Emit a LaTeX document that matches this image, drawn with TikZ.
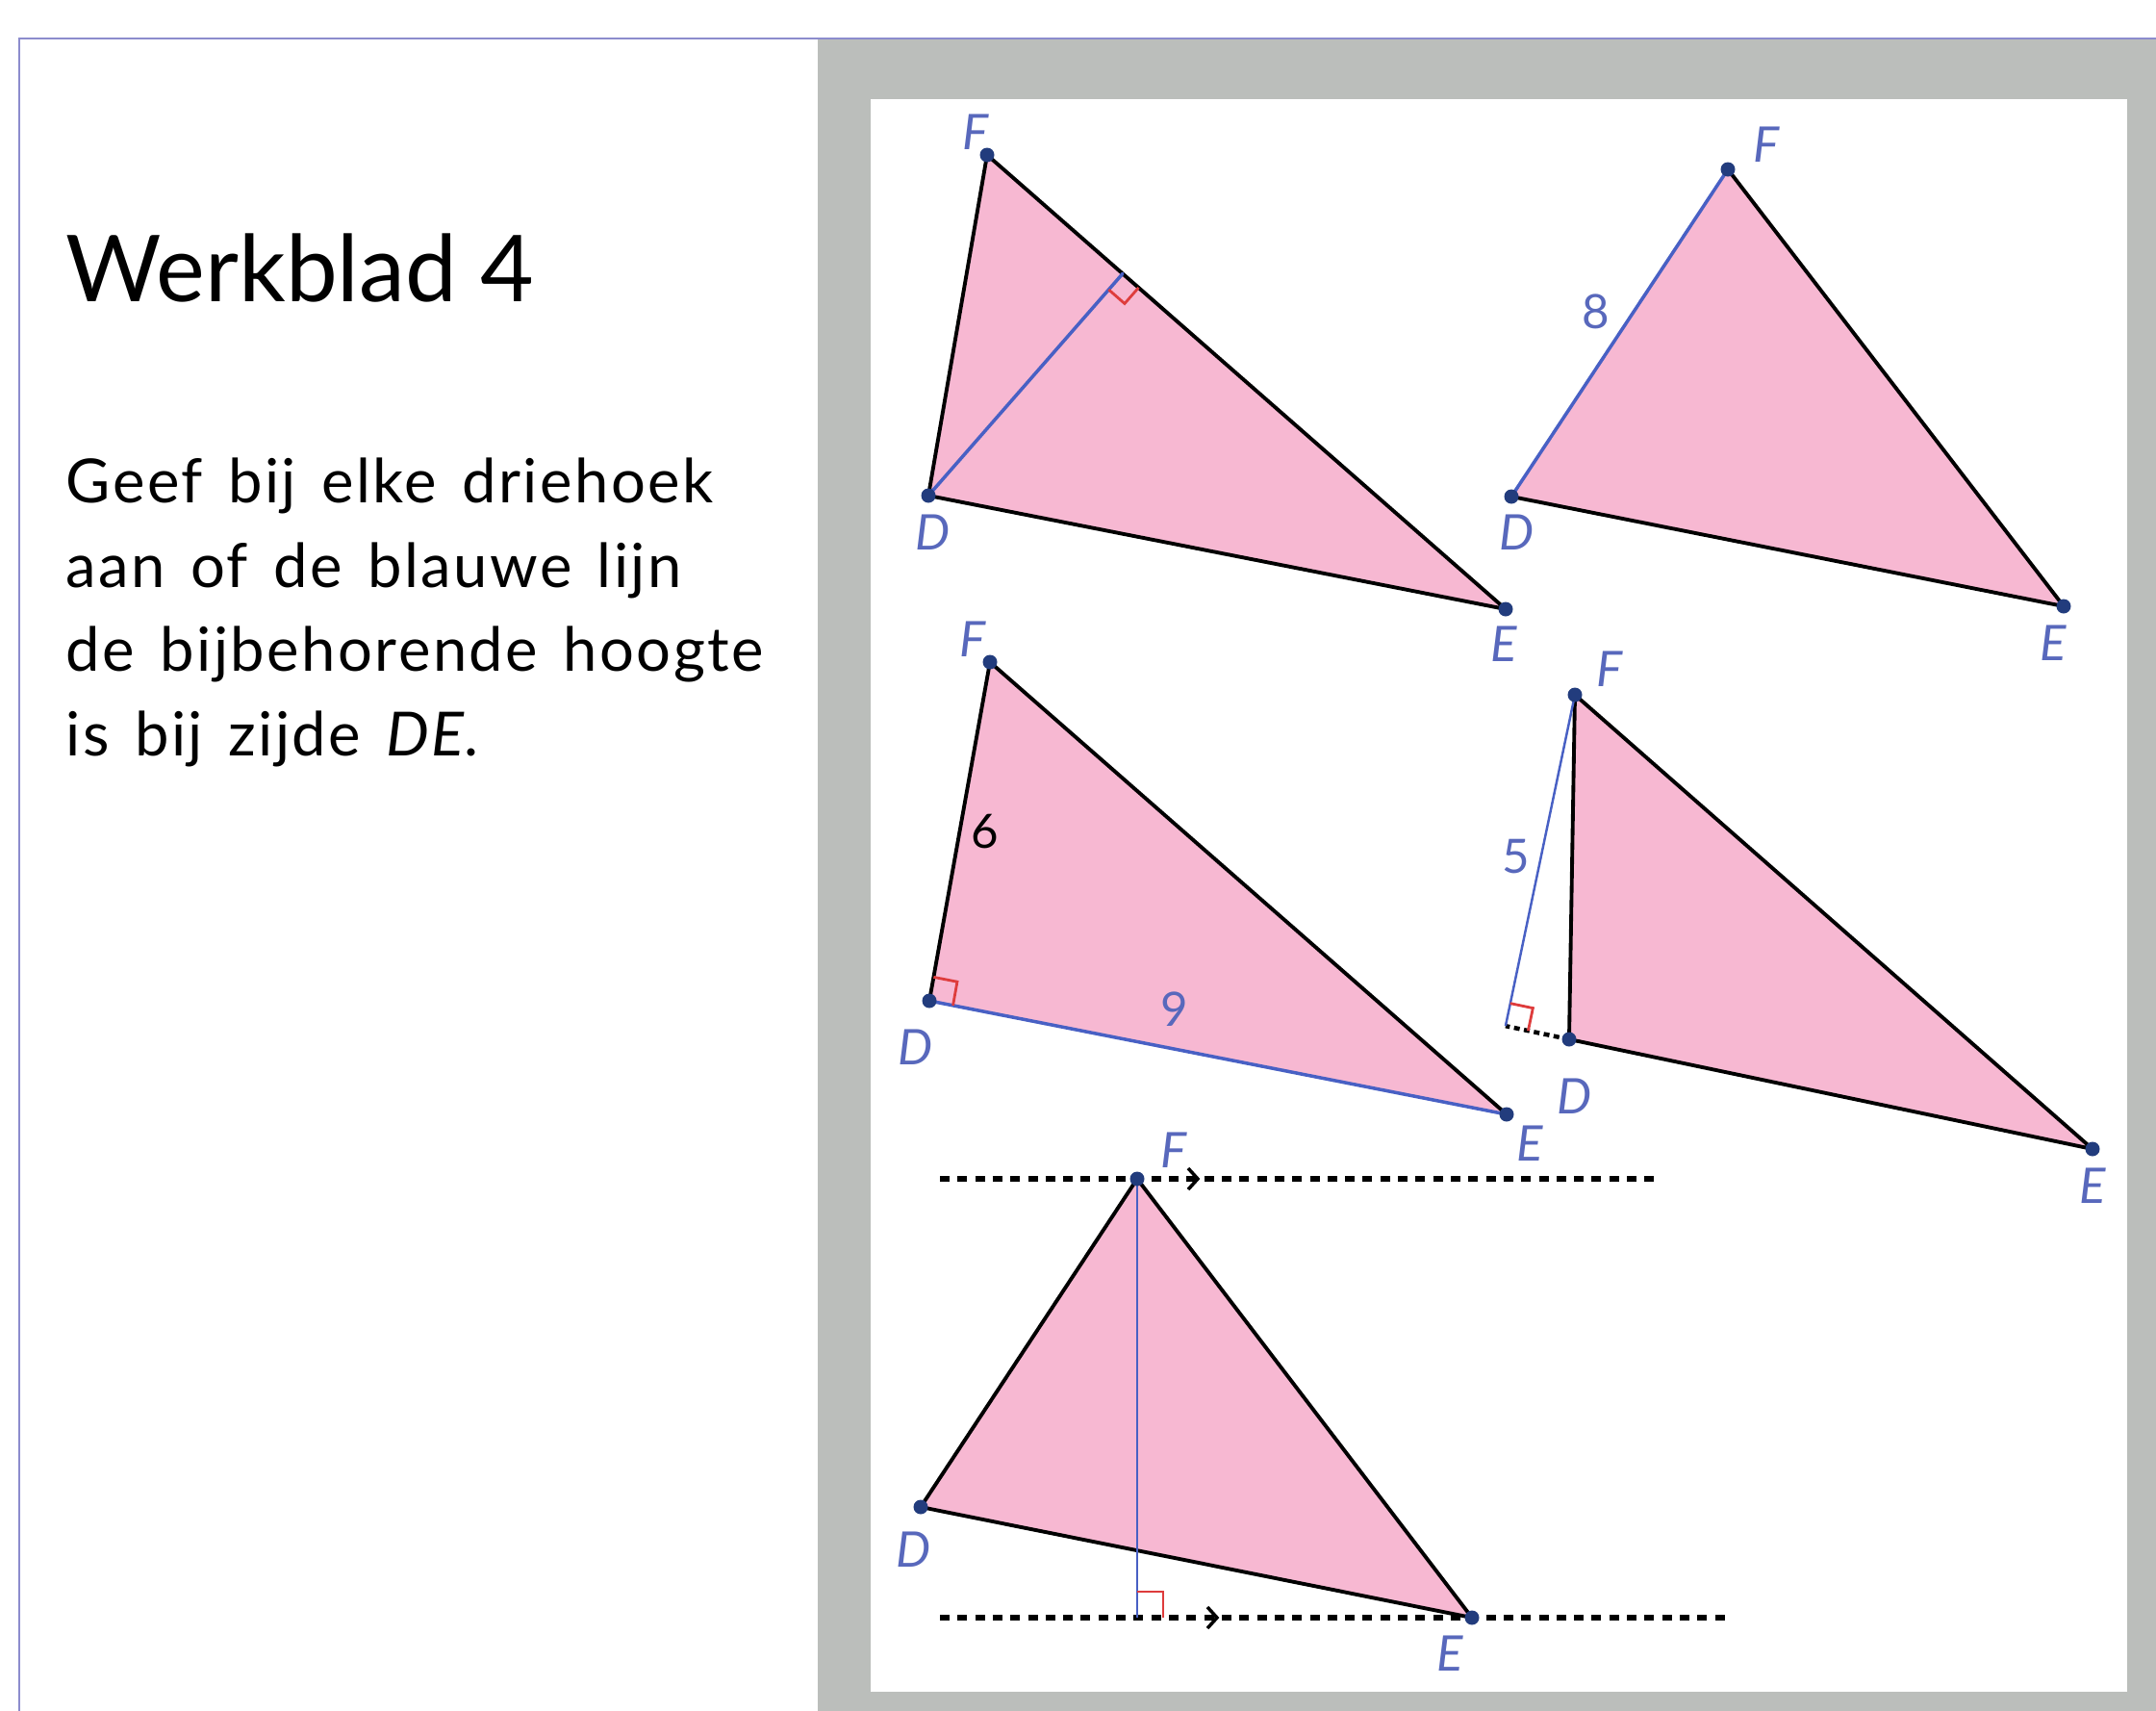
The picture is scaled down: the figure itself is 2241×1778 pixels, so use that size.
\documentclass[tikz,border=0pt]{standalone}
\usepackage{fontspec}
\setmainfont{Lato}
\newfontfamily\parafont[LetterSpace=4,WordSpace=1.4]{Lato}
\usetikzlibrary{calc}
\definecolor{pinkf}{RGB}{247,184,210}
\definecolor{bluel}{RGB}{72,96,196}
\definecolor{lab}{RGB}{88,104,188}
\definecolor{dotc}{RGB}{34,60,125}
\definecolor{redm}{RGB}{222,60,60}
\definecolor{panel}{RGB}{187,190,187}
\definecolor{framec}{RGB}{140,140,205}
\begin{document}
\begin{tikzpicture}[x=0.01cm,y=-0.01cm,
  tri/.style={fill=pinkf, draw=black, line width=1.1pt, line join=round},
  blk/.style={black, line width=1.1pt, line cap=round},
  alt/.style={bluel, line width=1.0pt, line cap=round},
  thinalt/.style={bluel, line width=0.7pt},
  ra/.style={redm, line width=0.8pt},
  vdot/.style={fill=dotc},
  lbl/.style={text=lab, font=\fontsize{14.5}{16}\selectfont\itshape, inner sep=0pt},
  num/.style={text=lab, font=\fontsize{14}{16}\selectfont, inner sep=0pt},
  dotl/.style={black, line width=0.065cm, dash pattern=on 0.10cm off 0.083cm},
  chev/.style={black, line width=0.035cm, line join=miter},
  title/.style={anchor=base west, inner sep=0pt, font=\fontsize{27.3}{30}\selectfont},
  para/.style={anchor=base west, inner sep=0pt, font=\parafont\fontsize{18}{20}\selectfont}
]
\useasboundingbox (0,0) rectangle (2241,1778);
\fill[white] (0,0) rectangle (2241,1778);
\fill[panel] (850,40) rectangle (2241,1778);
\draw[framec, line width=0.7pt] (20,1778) -- (20,40) -- (2241,40);
\fill[white] (905,103) rectangle (2211,1758);

% ---------- text ----------
\node[title] (ttl) at (68,313) {Werkblad 4};
\node[para] (p1) at (68,522) {Geef bij elke driehoek};
\node[para] (p2) at (68,610) {aan of de blauwe lijn};
\node[para] (p3) at (68,697) {de bijbehorende hoogte};
\node[para] (p4) at (68,785) {is bij zijde \textit{DE}.};

% ---------- triangle 1 ----------
\coordinate (F1) at (1026,161);
\coordinate (D1) at (965,515);
\coordinate (E1) at (1565,633);
\coordinate (H1) at ($(F1)!(D1)!(E1)$);
\filldraw[tri] (D1) -- (E1) -- (F1) -- cycle;
\draw[alt] (D1) -- (H1);
\coordinate (a1) at ($(H1)!0.22cm!(E1)$);
\coordinate (b1) at ($(H1)!0.22cm!(D1)$);
\draw[ra] (a1) -- ($(a1)+(b1)-(H1)$) -- (b1);

% ---------- triangle 2 ----------
\coordinate (F2) at (1796,176);
\coordinate (D2) at (1571,516);
\coordinate (E2) at (2145,630);
\fill[pinkf] (D2) -- (E2) -- (F2) -- cycle;
\draw[blk] (D2) -- (E2) -- (F2);
\draw[alt] (F2) -- (D2);

% ---------- triangle 3 ----------
\coordinate (F3) at (1029,688);
\coordinate (D3) at (966,1040);
\coordinate (E3) at (1566,1158);
\fill[pinkf] (D3) -- (E3) -- (F3) -- cycle;
\draw[blk] (D3) -- (F3) -- (E3);
\draw[alt] (D3) -- (E3);
\coordinate (a3) at ($(D3)!0.25cm!(E3)$);
\coordinate (b3) at ($(D3)!0.25cm!(F3)$);
\draw[ra] (a3) -- ($(a3)+(b3)-(D3)$) -- (b3);

% ---------- triangle 4 ----------
\coordinate (F4) at (1637,722);
\coordinate (D4) at (1631,1080);
\coordinate (E4) at (2175,1194);
\coordinate (H4) at ($(E4)!(F4)!(D4)$);
\fill[pinkf] (D4) -- (E4) -- (F4) -- cycle;
\draw[blk] (F4) -- (D4) -- (E4) -- (F4);
\draw[black, line width=0.045cm, dash pattern=on 0.06cm off 0.045cm] (D4) -- (H4);
\draw[thinalt] (F4) -- (H4);
\coordinate (a4) at ($(H4)!0.24cm!(F4)$);
\coordinate (b4) at ($(H4)!0.24cm!(D4)$);
\draw[ra] (a4) -- ($(a4)+(b4)-(H4)$) -- (b4);

% ---------- triangle 5 ----------
\coordinate (F5) at (1182,1225);
\coordinate (D5) at (957,1566);
\coordinate (E5) at (1530,1681);
\coordinate (L1) at (977,1225);
\coordinate (R1) at (1722,1225);
\coordinate (L2) at (977,1681);
\coordinate (R2) at (1798,1681);
\coordinate (H5) at (F5 |- E5);
\coordinate (C1) at (1240,1225);
\coordinate (C2) at (1260,1681);
\draw[dotl] (L1) -- (R1);
\draw[dotl] (L2) -- (R2);
\draw[chev] ($(C1)+(-5,-11)$) -- ($(C1)+(5,0)$) -- ($(C1)+(-5,11)$);
\draw[chev] ($(C2)+(-5,-11)$) -- ($(C2)+(5,0)$) -- ($(C2)+(-5,11)$);
\filldraw[tri] (D5) -- (E5) -- (F5) -- cycle;
\draw[thinalt] (F5) -- (H5);
\coordinate (a5) at ($(H5)!0.27cm!(F5)$);
\coordinate (b5) at ($(H5)+(27,0)$);
\draw[ra] (a5) -- ($(a5)+(b5)-(H5)$) -- (b5);

% ---------- vertex dots ----------
\foreach \v in {F1,D1,E1,F2,D2,E2,F3,D3,E3,F4,D4,E4,F5,D5,E5}
  \fill[vdot] (\v) circle[radius=0.075cm];

% ---------- labels ----------
\node[lbl] (lF1) at (1014,137) {F};
\node[lbl] (lD1) at (970,553) {D};
\node[lbl] (lE1) at (1563,669) {E};
\node[lbl] (lF2) at (1836,150) {F};
\node[lbl] (lD2) at (1577,553) {D};
\node[lbl] (lE2) at (2134,668) {E};
\node[num] (n8) at (1659,324) {8};
\node[lbl] (lF3) at (1011,664) {F};
\node[lbl] (lD3) at (952,1088) {D};
\node[lbl] (lE3) at (1590,1188) {E};
\node[num, text=black] (n6) at (1024,864) {6};
\node[num] (n9) at (1221,1049) {9};
\node[lbl] (lF4) at (1673,695) {F};
\node[lbl] (lD4) at (1637,1139) {D};
\node[lbl] (lE4) at (2175,1232) {E};
\node[num] (n5) at (1576,890) {5};
\node[lbl] (lF5) at (1220,1195) {F};
\node[lbl] (lD5) at (950,1610) {D};
\node[lbl] (lE5) at (1507,1718) {E};
\end{tikzpicture}
\end{document}
